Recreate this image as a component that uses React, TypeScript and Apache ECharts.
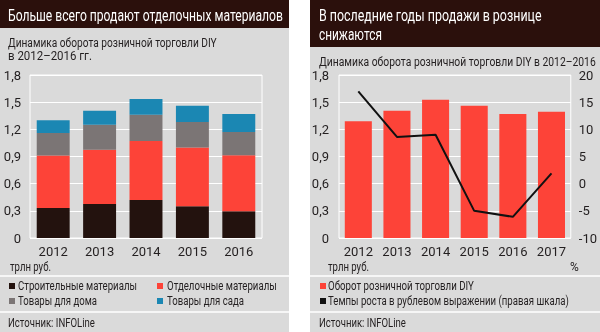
import React, { useEffect, useRef } from "react";
import * as echarts from "echarts";

const leftYears = ["2012", "2013", "2014", "2015", "2016"];
const buildMaterials = [0.33, 0.375, 0.42, 0.35, 0.295];
const finishMaterials = [0.58, 0.6, 0.65, 0.65, 0.62];
const homeGoods = [0.25, 0.275, 0.29, 0.28, 0.255];
const gardenGoods = [0.14, 0.155, 0.175, 0.18, 0.2];

const rightYears = ["2012", "2013", "2014", "2015", "2016", "2017"];
const turnover = [1.29, 1.405, 1.527, 1.46, 1.37, 1.394];
const growthRate = [17, 8.6, 9.0, -5.0, -6.1, 1.9];

const leftSeriesNames = ["Строительные материалы", "Отделочные материалы", "Товары для дома", "Товары для сада"];
const rightSeriesNames = ["Оборот розничной торговли DIY", "Темпы роста в рублевом выражении (правая шкала)"];

const FONT = "Roboto, 'Liberation Sans', sans-serif";
const TXT = "#231f20";
const BG = "#dadada";
const HEAD = "#2b100c";
const C_DARK = "#23120e";
const C_RED = "#fd4338";
const C_GRAY = "#7b7575";
const C_BLUE = "#1b87b3";

const fmt = (v: number) => String(Math.round(v * 10) / 10).replace(".", ",");

let measureCtx: CanvasRenderingContext2D | null = null;
function measure(text: string, size: number) {
  if (!measureCtx) measureCtx = document.createElement("canvas").getContext("2d");
  if (!measureCtx) return text.length * size * 0.5;
  measureCtx.font = `${size}px Roboto, 'Liberation Sans', sans-serif`;
  return measureCtx.measureText(text).width;
}

export default function App() {
  const ref = useRef<HTMLDivElement>(null);
  useEffect(() => {
    if (!ref.current) return;
    const chart = echarts.init(ref.current, null, { renderer: "svg" });
    const txt = (text: string, x: number, y: number, size: number, targetW: number, color = TXT, extra: any = {}) => {
      const w = measure(text, size);
      const sx = Math.min(1, targetW / w);
      return {
        type: "text",
        x,
        y,
        scaleX: sx,
        z: 10,
        style: { text, fill: color, fontSize: size, fontFamily: FONT, textVerticalAlign: "middle", ...extra },
      };
    };
    const hline = (x1: number, x2: number, y: number) => ({
      type: "line",
      z: -5,
      shape: { x1, y1: y, x2, y2: y },
      style: { stroke: "#ffffff", lineWidth: 1.5 },
    });
    const sq = (x: number, y: number, color: string) => ({
      type: "rect",
      z: 10,
      shape: { x, y: y - 3, width: 6, height: 6 },
      style: { fill: color },
    });
    const axisLabel = { color: TXT, fontSize: 13, fontFamily: FONT };
    const option: any = {
      animation: false,
      textStyle: { fontFamily: FONT },
      graphic: [
        { type: "rect", z: -10, shape: { x: 0, y: 0, width: 289, height: 332 }, style: { fill: BG } },
        { type: "rect", z: -10, shape: { x: 310, y: 0, width: 290, height: 332 }, style: { fill: BG } },
        { type: "rect", z: -9, shape: { x: 0, y: 0, width: 289, height: 28 }, style: { fill: HEAD } },
        { type: "rect", z: -9, shape: { x: 310, y: 0, width: 290, height: 47 }, style: { fill: HEAD } },
        hline(0, 289, 276),
        hline(0, 289, 312),
        hline(310, 600, 276),
        hline(310, 600, 312),
        txt("Больше всего продают отделочных материалов", 8, 15, 17, 275, "#ffffff"),
        txt("В последние годы продажи в рознице", 319, 15, 17, 223, "#ffffff"),
        txt("снижаются", 319, 34, 17, 63, "#ffffff"),
        txt("Динамика оборота розничной торговли DIY", 8, 43, 13, 209),
        txt("в 2012–2016 гг.", 8, 56, 13, 84),
        txt("Динамика оборота розничной торговли DIY в 2012–2016", 319, 62, 13, 277),
        txt("трлн руб.", 10, 267, 12, 41),
        txt("трлн руб.", 328, 267, 12, 41),
        txt("%", 570, 267, 12, 10),
        txt("Источник: INFOLine", 8, 323, 12, 87),
        txt("Источник: INFOLine", 319, 323, 12, 87),
        sq(9, 286, C_DARK),
        txt(leftSeriesNames[0], 18, 286, 12, 119),
        sq(157, 286, C_RED),
        txt(leftSeriesNames[1], 167, 286, 12, 110),
        sq(9, 301, C_GRAY),
        txt(leftSeriesNames[2], 18, 301, 12, 79),
        sq(157, 301, C_BLUE),
        txt(leftSeriesNames[3], 167, 301, 12, 77),
        sq(320, 286, C_RED),
        txt(rightSeriesNames[0], 328, 286, 12, 146),
        sq(320, 301, "#111111"),
        txt(rightSeriesNames[1], 328, 301, 12, 241),
      ],
      grid: [
        { left: 30, top: 75, width: 232, height: 163, show: true, borderColor: "#ffffff", borderWidth: 1, backgroundColor: "transparent" },
        { left: 339, top: 75, width: 232, height: 163, show: true, borderColor: "#ffffff", borderWidth: 1, backgroundColor: "transparent" },
      ],
      xAxis: [
        {
          type: "category", gridIndex: 0, data: leftYears,
          axisLine: { show: false }, axisTick: { show: false },
          axisLabel: { ...axisLabel, margin: 7, interval: 0 },
        },
        {
          type: "category", gridIndex: 1, data: rightYears,
          axisLine: { show: false }, axisTick: { show: false },
          axisLabel: { ...axisLabel, margin: 7, interval: 0 },
        },
      ],
      yAxis: [
        {
          type: "value", gridIndex: 0, min: 0, max: 1.8, interval: 0.3,
          axisLine: { show: false }, axisTick: { show: false },
          splitLine: { lineStyle: { color: "#ffffff", width: 1 } },
          axisLabel: { ...axisLabel, margin: 9, formatter: fmt },
        },
        {
          type: "value", gridIndex: 1, min: 0, max: 1.8, interval: 0.3,
          axisLine: { show: false }, axisTick: { show: false },
          splitLine: { lineStyle: { color: "#ffffff", width: 1 } },
          axisLabel: { ...axisLabel, margin: 10, formatter: fmt },
        },
        {
          type: "value", gridIndex: 1, position: "right", min: -10, max: 20, interval: 5,
          axisLine: { show: false }, axisTick: { show: false }, splitLine: { show: false },
          axisLabel: { ...axisLabel, margin: 8 },
        },
      ],
      series: [
        { name: leftSeriesNames[0], type: "bar", stack: "a", xAxisIndex: 0, yAxisIndex: 0, data: buildMaterials, itemStyle: { color: C_DARK }, barWidth: "71%" },
        { name: leftSeriesNames[1], type: "bar", stack: "a", xAxisIndex: 0, yAxisIndex: 0, data: finishMaterials, itemStyle: { color: C_RED } },
        { name: leftSeriesNames[2], type: "bar", stack: "a", xAxisIndex: 0, yAxisIndex: 0, data: homeGoods, itemStyle: { color: C_GRAY } },
        { name: leftSeriesNames[3], type: "bar", stack: "a", xAxisIndex: 0, yAxisIndex: 0, data: gardenGoods, itemStyle: { color: C_BLUE } },
        { name: rightSeriesNames[0], type: "bar", xAxisIndex: 1, yAxisIndex: 1, data: turnover, itemStyle: { color: C_RED }, barWidth: "70%" },
        {
          name: rightSeriesNames[1], type: "line", xAxisIndex: 1, yAxisIndex: 2,
          data: growthRate, symbol: "none", itemStyle: { color: "#111111" }, lineStyle: { color: "#111111", width: 2 },
        },
      ],
    };
    chart.setOption(option);
    return () => chart.dispose();
  }, []);
  return <div ref={ref} style={{ position: "fixed", left: 0, top: 0, width: 600, height: 332 }} />;
}
